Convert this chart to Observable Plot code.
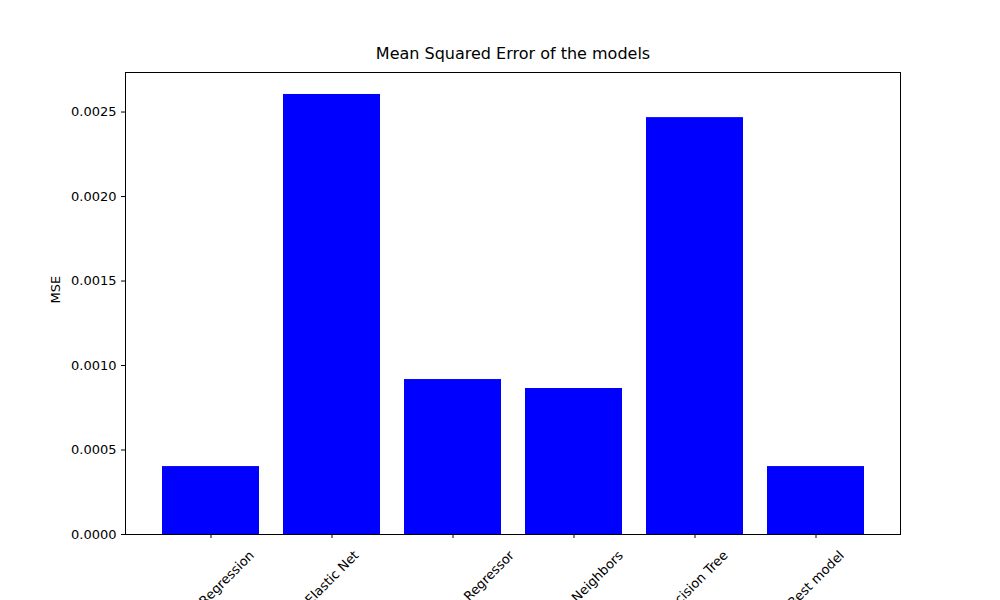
<!DOCTYPE html>
<html><head><meta charset="utf-8">
<script src="https://cdn.jsdelivr.net/npm/d3@7"></script>
<script src="https://cdn.jsdelivr.net/npm/@observablehq/plot@0.6"></script>
<style>body{margin:0;background:#fff}</style>
</head><body><div id="chart"></div>
<script>
const models = ["Linear Regression", "Elastic Net", "Random Forest Regressor", "K-Nearest Neighbors", "Decision Tree", "Best model"];
const mse = [0.000402, 0.002604, 0.000917, 0.000864, 0.002467, 0.000402];
const yTicks = [0, 0.0005, 0.001, 0.0015, 0.002, 0.0025];
const data = models.map((m, i) => ({model: m, mse: mse[i]}));

// matplotlib-style rotated label: bbox top sits under the tick, so centre drops with length
const ctx = document.createElement("canvas").getContext("2d");
ctx.font = "13px 'DejaVu Sans'";
const labelDy = m => 44 + 0.354 * (ctx.measureText(m).width + 13) - 30;

const chart = Plot.plot({
  width: 1000, height: 600,
  marginLeft: 125, marginRight: 100, marginTop: 72, marginBottom: 66,
  style: {fontFamily: "DejaVu Sans", fontSize: "13px", color: "black", overflow: "visible"},
  x: {domain: models, paddingInner: 0.2, paddingOuter: 0.29, label: null},
  y: {domain: [0, 0.002734], label: null},
  marks: [
    Plot.barY(data, {x: "model", y: "mse", fill: "#0000ff"}),
    Plot.frame({stroke: "black"}),
    Plot.axisY({ticks: yTicks, tickFormat: d3.format(".4f"), tickSize: 4, fontSize: 13}),
    Plot.axisX({tickSize: 4, tickFormat: () => ""}),
    ...models.map(m => Plot.text([m], {x: d => d, frameAnchor: "bottom", dy: labelDy(m), rotate: -45, textAnchor: "middle", lineAnchor: "middle", fontSize: 13})),
    Plot.text(["MSE"], {frameAnchor: "left", dx: -70, rotate: -90, fontSize: 13}),
    Plot.text(["Mean Squared Error of the models"], {frameAnchor: "top", dy: -14, lineAnchor: "bottom", fontSize: 16})
  ]
});
document.getElementById("chart").append(chart);
</script></body></html>
